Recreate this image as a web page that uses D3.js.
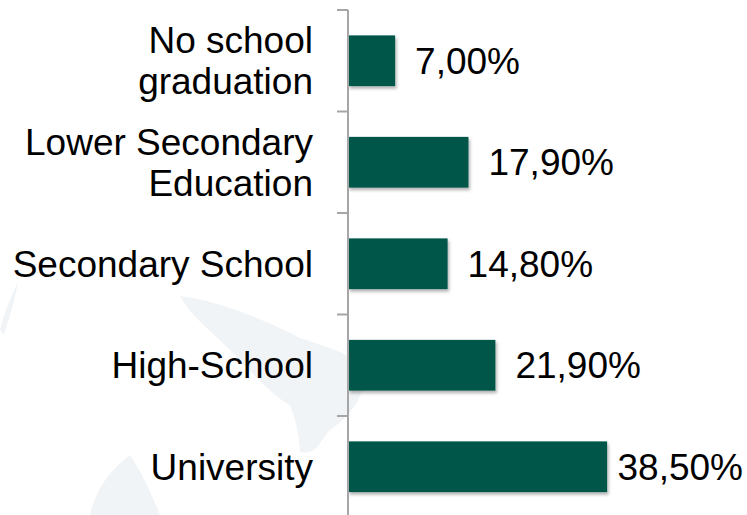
<!DOCTYPE html>
<html>
<head>
<meta charset="utf-8">
<script src="https://cdn.jsdelivr.net/npm/d3@7"></script>
<style>
  body { margin: 0; background: #fff; }
  svg text { font-family: "Liberation Sans", Arial, sans-serif; fill: #000; }
</style>
</head>
<body>
<div id="chart"></div>
<script>
// data
var categories = ["No school graduation", "Lower Secondary Education", "Secondary School", "High-School", "University"];
var labelLines = [["No school", "graduation"], ["Lower Secondary", "Education"], ["Secondary School"], ["High-School"], ["University"]];
var values = [7.0, 17.9, 14.8, 21.9, 38.5];

var W = 747, H = 515;
var axisX = 348, topY = 10, step = 101.5;

var svg = d3.select("#chart").append("svg")
    .attr("width", W)
    .attr("height", H);

var defs = svg.append("defs");
var f = defs.append("filter").attr("id", "shadow")
    .attr("x", "-5%").attr("y", "-10%").attr("width", "115%").attr("height", "130%");
f.append("feDropShadow")
    .attr("dx", 1.5).attr("dy", 2.5).attr("stdDeviation", 1.5)
    .attr("flood-color", "#000").attr("flood-opacity", 0.3);

// faint watermark (decoration)
var wm = svg.append("g").attr("fill", "#f1f4f6");
wm.append("path").attr("d", "M180,296 C215,300 262,318 300,338 C330,348 345,352 356,362 C372,380 360,410 330,430 C320,440 318,455 300,452 C300,440 296,420 290,405 C270,395 250,370 230,350 C210,330 190,315 180,296 Z");
wm.append("path").attr("d", "M90,515 C95,490 110,470 130,455 C140,470 150,490 160,515 Z");
wm.append("path").attr("d", "M0,330 C5,310 12,295 18,282 C15,300 10,315 4,335 Z");

var y = d3.scaleBand()
    .domain(categories)
    .range([topY, topY + step * categories.length])
    .paddingInner(0.5)
    .paddingOuter(0.25);

var x = d3.scaleLinear()
    .domain([0, 40])
    .range([axisX, axisX + 40 * 6.73]);

// bars
svg.selectAll("rect.bar")
    .data(values)
    .enter()
    .append("rect")
    .attr("class", "bar")
    .attr("x", x(0))
    .attr("y", function(d, i) { return y(categories[i]); })
    .attr("width", function(d) { return x(d) - x(0); })
    .attr("height", y.bandwidth())
    .attr("fill", "#03564a")
    .attr("filter", "url(#shadow)");

// axis
var ax = svg.append("g")
    .attr("transform", "translate(" + axisX + ",0)");

ax.append("line")
    .attr("x1", 0).attr("x2", 0)
    .attr("y1", topY).attr("y2", H)
    .attr("stroke", "#a6a6a6").attr("stroke-width", 2);

var tickYs = d3.range(categories.length + 1).map(function(i) { return topY + i * y.step(); });
ax.selectAll("line.tk")
    .data(tickYs)
    .enter()
    .append("line")
    .attr("class", "tk")
    .attr("x1", -11).attr("x2", 0)
    .attr("y1", function(d) { return d; })
    .attr("y2", function(d) { return d; })
    .attr("stroke", "#a6a6a6").attr("stroke-width", 2);

// category labels
var fs = 37, lh = 41;
var cat = svg.selectAll("text.cat")
    .data(labelLines)
    .enter()
    .append("text")
    .attr("class", "cat")
    .attr("text-anchor", "end")
    .attr("font-size", fs);

cat.each(function(lines, i) {
    var cy = y(categories[i]) + y.bandwidth() / 2;
    var t = d3.select(this);
    var y0 = cy - (lines.length - 1) * lh / 2 + fs * 0.35;
    lines.forEach(function(l, j) {
        t.append("tspan")
            .attr("x", 313)
            .attr("y", y0 + j * lh)
            .text(l);
    });
});

// value labels
var fmt = function(v) { return v.toFixed(2).replace(".", ",") + "%"; };
svg.selectAll("text.val")
    .data(values)
    .enter()
    .append("text")
    .attr("class", "val")
    .attr("font-size", fs)
    .attr("y", function(d, i) { return y(categories[i]) + y.bandwidth() / 2 + fs * 0.35; })
    .text(fmt)
    .attr("x", function(d) {
        var w = this.getComputedTextLength();
        return Math.min(x(d) + 20, W - 4 - w);
    });
</script>
</body>
</html>
